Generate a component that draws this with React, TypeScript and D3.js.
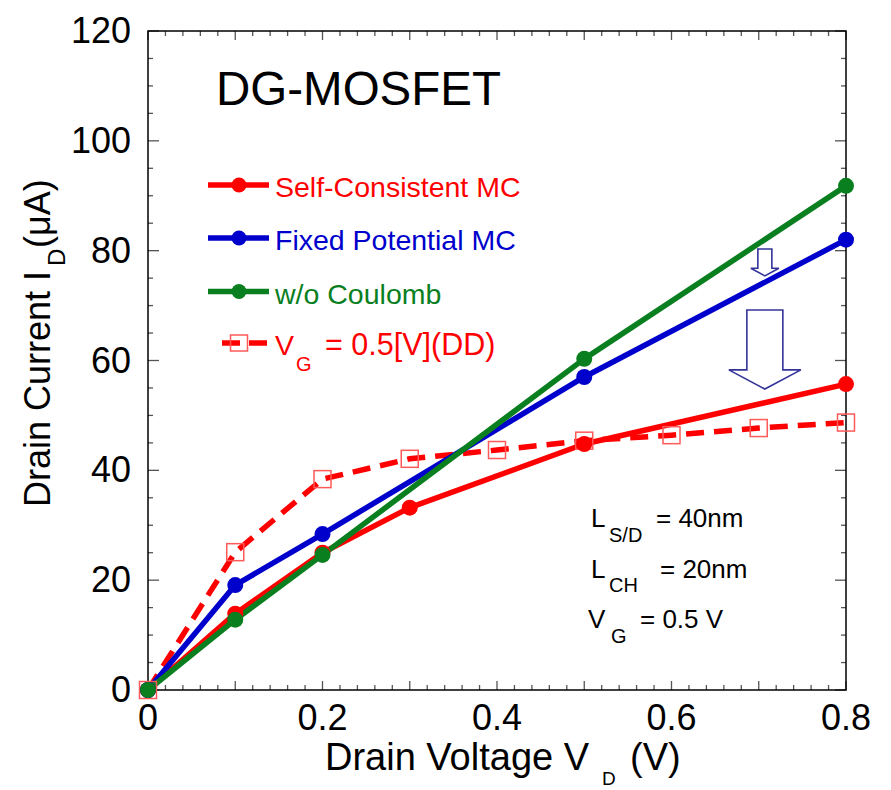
import React, { useEffect } from "react";
import * as d3 from "d3";

// Drain current vs drain voltage of a DG-MOSFET (V_G = 0.5 V)
const vdMC = [0, 0.1, 0.2, 0.3, 0.5, 0.8];
const selfConsistentMC = [0, 13.9, 25.0, 33.2, 44.8, 55.7];

const vdFixed = [0, 0.1, 0.2, 0.5, 0.8];
const fixedPotentialMC = [0, 19.1, 28.4, 57.0, 82.0];

const vdNoCoulomb = [0, 0.1, 0.2, 0.5, 0.8];
const withoutCoulomb = [0, 12.8, 24.6, 60.3, 91.8];

const vdDD = [0, 0.1, 0.2, 0.3, 0.4, 0.5, 0.6, 0.7, 0.8];
const driftDiffusion = [0, 25.1, 38.4, 42.1, 43.7, 45.4, 46.4, 47.7, 48.7];

const xTickLabels = [0, 0.2, 0.4, 0.6, 0.8];
const yTickLabels = [0, 20, 40, 60, 80, 100, 120];

// downward arrows marking the current reduction at V_D ≈ 0.7 V
const reductionArrows = [
  { vd: 0.707, top: 80.3, neck: 76.8, tip: 75.4, shaft: 7, head: 14 },
  { vd: 0.707, top: 69.2, neck: 58.3, tip: 54.8, shaft: 18, head: 36 },
];

const W = 891;
const H = 790;
const FONT = "'Liberation Sans', Arial, Helvetica, sans-serif";

const RED = "#ff0000";
const BLUE = "#0000cc";
const GREEN = "#0a7f1f";
const SQUARE = "#ff5a5a";
const ARROW = "#333399";

export default function App() {
  useEffect(() => {
    document.body.style.margin = "0";
  }, []);

  const x = d3.scaleLinear().domain([0, 0.8]).range([148, 846]);
  const y = d3.scaleLinear().domain([0, 120]).range([690, 31]);
  const [x0, x1] = x.range();
  const [y0, y1] = y.range();

  const line = d3
    .line<[number, number]>()
    .x((d) => x(d[0]))
    .y((d) => y(d[1]));

  const zip = (a: number[], b: number[]) =>
    a.map((v, i) => [v, b[i]] as [number, number]);

  const redPts = zip(vdMC, selfConsistentMC);
  const bluePts = zip(vdFixed, fixedPotentialMC);
  const greenPts = zip(vdNoCoulomb, withoutCoulomb);
  const ddPts = zip(vdDD, driftDiffusion);

  // tick positions
  const xMinor = d3.range(0, 41).map((i) => i * 0.02);
  const yMinor = d3.range(0, 25).map((i) => i * 5);
  const isMajorX = (v: number) => Math.abs(v * 10 - Math.round(v * 10)) < 1e-6;
  const isMajorY = (v: number) => v % 20 === 0;

  const tickColor = "#555";

  const legendRows = [
    { label: "Self-Consistent MC", color: RED, yRow: 185 },
    { label: "Fixed Potential MC", color: BLUE, yRow: 238 },
    { label: "w/o Coulomb", color: GREEN, yRow: 291.5 },
  ];

  return (
    <svg width={W} height={H} style={{ display: "block", background: "#fff" }} fontFamily={FONT}>
      {/* ticks on all four sides, pointing inward */}
      <g stroke={tickColor} strokeWidth={1.3}>
        {xMinor.map((v, i) => {
          const len = isMajorX(v) ? 9 : 5;
          return (
            <g key={"xt" + i}>
              <line x1={x(v)} x2={x(v)} y1={y0} y2={y0 - len} />
              <line x1={x(v)} x2={x(v)} y1={y1} y2={y1 + len} />
            </g>
          );
        })}
        {yMinor.map((v, i) => {
          const len = isMajorY(v) ? 11 : 5;
          return (
            <g key={"yt" + i}>
              <line x1={x0} x2={x0 + len} y1={y(v)} y2={y(v)} />
              <line x1={x1} x2={x1 - len} y1={y(v)} y2={y(v)} />
            </g>
          );
        })}
      </g>
      <rect x={x0} y={y1} width={x1 - x0} height={y0 - y1} fill="none" stroke="#000" strokeWidth={1.5} />

      {/* tick labels */}
      <g fontSize={36} fill="#000">
        {xTickLabels.map((v) => (
          <text key={"xl" + v} x={x(v)} y={730} textAnchor="middle">
            {v === 0 ? "0" : String(v)}
          </text>
        ))}
        {yTickLabels.map((v) => (
          <text key={"yl" + v} x={131} y={y(v) + 12} textAnchor="end">
            {v}
          </text>
        ))}
      </g>

      {/* axis titles */}
      <text x={325} y={770} fontSize={38} fill="#000">
        Drain Voltage V
      </text>
      <text x={602} y={785} fontSize={19} fill="#000">
        D
      </text>
      <text x={630} y={770} fontSize={38} fill="#000">
        (V)
      </text>

      <g transform="translate(50,507) rotate(-90)" fill="#000">
        <text x={0} y={0} fontSize={36}>
          Drain Current I
        </text>
        <text x={241} y={15} fontSize={24}>
          D
        </text>
        <text x={259} y={0} fontSize={36}>
          (μA)
        </text>
      </g>

      {/* title */}
      <text x={216} y={105} fontSize={47.5} fill="#000">
        DG-MOSFET
      </text>

      {/* series */}
      <path d={line(ddPts) || ""} fill="none" stroke={RED} strokeWidth={5.5} strokeDasharray="18,10" />
      <path d={line(redPts) || ""} fill="none" stroke={RED} strokeWidth={5.5} strokeLinejoin="round" />
      <path d={line(bluePts) || ""} fill="none" stroke={BLUE} strokeWidth={5.5} strokeLinejoin="round" />
      <path d={line(greenPts) || ""} fill="none" stroke={GREEN} strokeWidth={5.5} strokeLinejoin="round" />

      {ddPts.map((d, i) => (
        <rect
          key={"sq" + i}
          x={x(d[0]) - 8.5}
          y={y(d[1]) - 8.5}
          width={17}
          height={17}
          fill="none"
          stroke={SQUARE}
          strokeWidth={1.5}
        />
      ))}
      {redPts.map((d, i) => (
        <circle key={"r" + i} cx={x(d[0])} cy={y(d[1])} r={8} fill={RED} />
      ))}
      {bluePts.map((d, i) => (
        <circle key={"b" + i} cx={x(d[0])} cy={y(d[1])} r={8} fill={BLUE} />
      ))}
      {greenPts.map((d, i) => (
        <circle key={"g" + i} cx={x(d[0])} cy={y(d[1])} r={8} fill={GREEN} />
      ))}

      {/* reduction arrows */}
      {reductionArrows.map((a, i) => {
        const cx = x(a.vd);
        const top = y(a.top);
        const neck = y(a.neck);
        const tip = y(a.tip);
        const p = d3.path();
        p.moveTo(cx - a.shaft, top);
        p.lineTo(cx + a.shaft, top);
        p.lineTo(cx + a.shaft, neck);
        p.lineTo(cx + a.head, neck);
        p.lineTo(cx, tip);
        p.lineTo(cx - a.head, neck);
        p.lineTo(cx - a.shaft, neck);
        p.closePath();
        return <path key={"ar" + i} d={p.toString()} fill="#fff" stroke={ARROW} strokeWidth={1.6} strokeLinejoin="miter" />;
      })}

      {/* legend */}
      {legendRows.map((r) => (
        <g key={r.label}>
          <line x1={208} x2={269} y1={r.yRow} y2={r.yRow} stroke={r.color} strokeWidth={5.5} />
          <circle cx={239} cy={r.yRow} r={7.5} fill={r.color} />
          <text x={275} y={r.yRow + 12} fontSize={28.5} fill={r.color}>
            {r.label}
          </text>
        </g>
      ))}
      <g>
        <line x1={222} x2={267} y1={343} y2={343} stroke={RED} strokeWidth={5.5} strokeDasharray="18,9" />
        <rect x={230.5} y={335} width={17} height={16} fill="none" stroke={SQUARE} strokeWidth={1.5} />
        <text x={275} y={355} fontSize={28.5} fill={RED}>
          V
        </text>
        <text x={296} y={371} fontSize={20} fill={RED}>
          G
        </text>
        <text x={325} y={355} fontSize={30.5} fill={RED}>
          = 0.5[V](DD)
        </text>
      </g>

      {/* device parameters */}
      <g fill="#000">
        <text x={591} y={527} fontSize={26}>L</text>
        <text x={609} y={542} fontSize={20}>S/D</text>
        <text x={656} y={527} fontSize={26}>= 40nm</text>

        <text x={591} y={578} fontSize={26}>L</text>
        <text x={609} y={592} fontSize={20}>CH</text>
        <text x={660} y={578} fontSize={26}>= 20nm</text>

        <text x={588} y={628} fontSize={26}>V</text>
        <text x={611} y={643} fontSize={20}>G</text>
        <text x={640} y={628} fontSize={26}>= 0.5 V</text>
      </g>
    </svg>
  );
}
